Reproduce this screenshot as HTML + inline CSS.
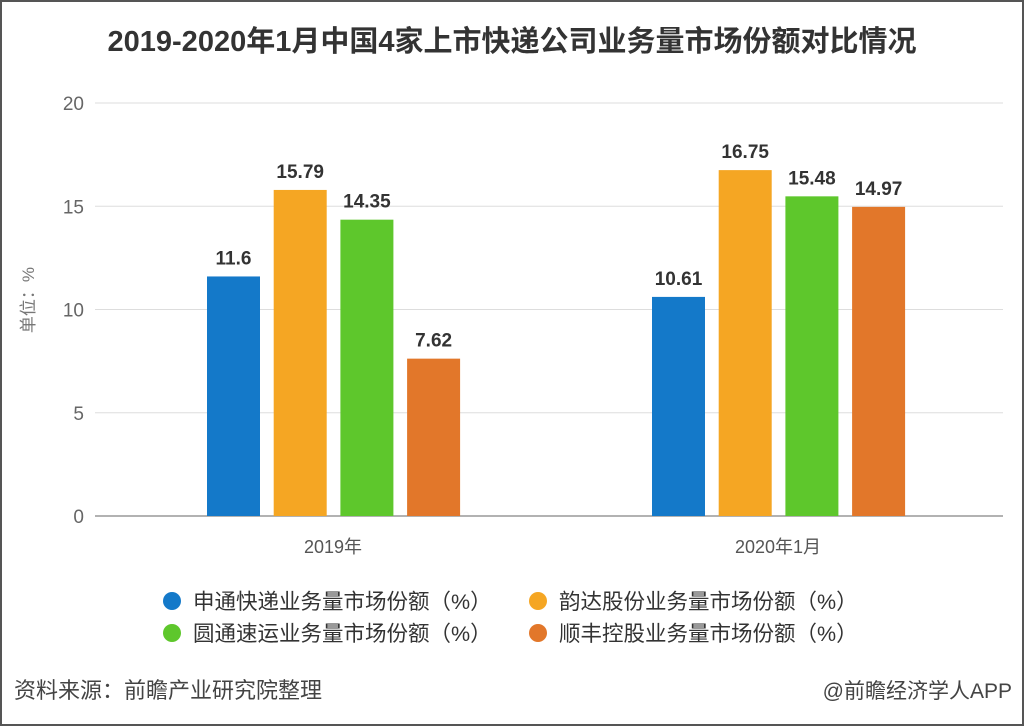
<!DOCTYPE html>
<html><head><meta charset="utf-8"><style>
body{margin:0;background:#fff}
svg{display:block}
text{font-family:"Liberation Sans","Noto Sans CJK SC",sans-serif}
</style></head><body>
<svg id="chart" width="1024" height="726" viewBox="0 0 1024 726">
<rect x="1" y="1" width="1022" height="724" fill="#fff" stroke="#555" stroke-width="2"/>
<text x="512" y="51" text-anchor="middle" font-size="29" font-weight="bold" fill="#333">2019-2020年1月中国4家上市快递公司业务量市场份额对比情况</text>
<text transform="translate(34,300) rotate(-90)" text-anchor="middle" font-size="17" fill="#777">单位：%</text>
<g id="grid"></g><g id="bars"></g>
<g>
<circle cx="172" cy="601" r="9" fill="#1479c9"/>
<text x="193" y="609" font-size="21.5" fill="#333">申通快递业务量市场份额（%）</text>
<circle cx="538" cy="601" r="9" fill="#f5a623"/>
<text x="559" y="609" font-size="21.5" fill="#333">韵达股份业务量市场份额（%）</text>
<circle cx="172" cy="633" r="9" fill="#5ec72c"/>
<text x="193" y="641" font-size="21.5" fill="#333">圆通速运业务量市场份额（%）</text>
<circle cx="538" cy="633" r="9" fill="#e2772a"/>
<text x="559" y="641" font-size="21.5" fill="#333">顺丰控股业务量市场份额（%）</text>
</g>
<text x="14" y="698" font-size="22" fill="#444">资料来源：前瞻产业研究院整理</text>
<text x="1012" y="698" text-anchor="end" font-size="21" fill="#444">@前瞻经济学人APP</text>
</svg>
<script>
const categories=["2019年","2020年1月"];
const seriesSTO=[11.6,10.61];
const seriesYunda=[15.79,16.75];
const seriesYTO=[14.35,15.48];
const seriesSF=[7.62,14.97];
const yTicks=[0,5,10,15,20];
const labelsSTO=["11.6","10.61"];
const labelsYunda=["15.79","16.75"];
const labelsYTO=["14.35","15.48"];
const labelsSF=["7.62","14.97"];

const NS="http://www.w3.org/2000/svg";
const x0=95,x1=1003,yZero=516,yTop=103,yMax=20;
const y=v=>yZero-(v/yMax)*(yZero-yTop);
const catCenter=i=>333+i*445;
const grid=document.getElementById('grid'),bars=document.getElementById('bars');
function mk(t,a,p){const e=document.createElementNS(NS,t);for(const k in a)e.setAttribute(k,a[k]);p.appendChild(e);return e;}
yTicks.forEach(v=>{
  const l=mk('line',{x1:x0,x2:x1,y1:y(v),y2:y(v),stroke:v===0?'#999':'#ddd','stroke-width':v===0?1.5:1},grid);
  
  
  const t=mk('text',{x:84,y:y(v)+7,'text-anchor':'end','font-size':19,fill:'#666'},grid);
  t.textContent=v;
  
  
});
const series=[[seriesSTO,labelsSTO,'#1479c9','sto'],[seriesYunda,labelsYunda,'#f5a623','yunda'],[seriesYTO,labelsYTO,'#5ec72c','yto'],[seriesSF,labelsSF,'#e2772a','sf']];
const bw=53,step=66.7;
categories.forEach((c,i)=>{
  const cx=catCenter(i);
  const t=mk('text',{x:cx,y:553,'text-anchor':'middle','font-size':18,fill:'#555'},grid);
  t.textContent=c;
  
  
  series.forEach((s,j)=>{
    const bx=cx-126+j*step;
    const v=s[0][i];
    const r=mk('rect',{x:bx,y:y(v),width:bw,height:yZero-y(v),fill:s[2]},bars);
    
    
    const lt=mk('text',{x:bx+bw/2,y:y(v)-12,'text-anchor':'middle','font-size':19,'font-weight':'bold',fill:'#333'},bars);
    lt.textContent=s[1][i];
    
    
  });
});
</script>
</body></html>
